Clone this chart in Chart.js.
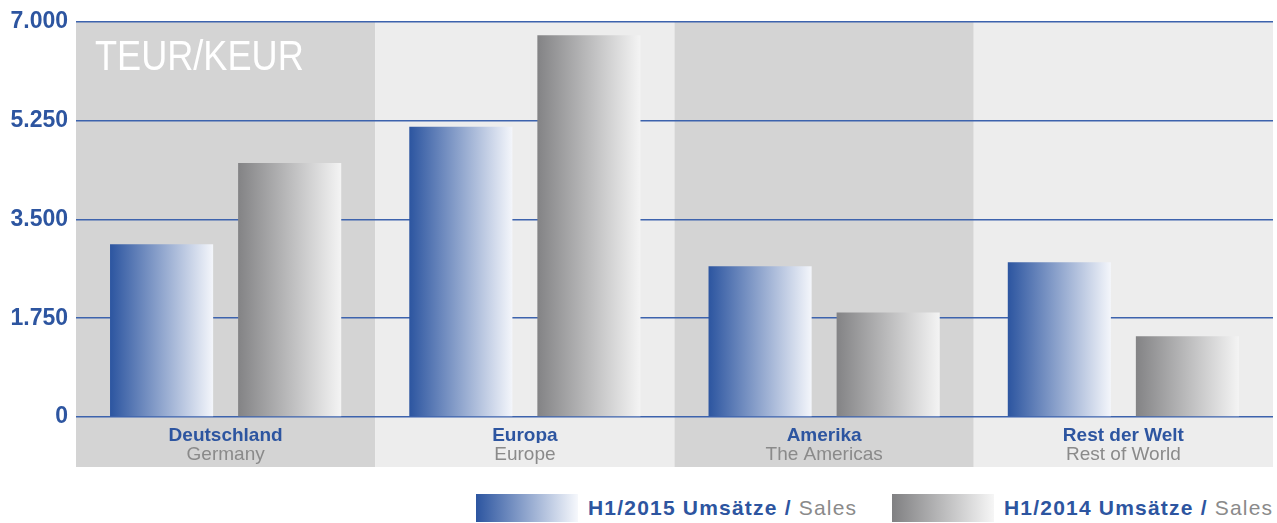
<!DOCTYPE html>
<html>
<head>
<meta charset="utf-8">
<script src="https://cdn.jsdelivr.net/npm/chart.js@4/dist/chart.umd.min.js"></script>
<style>
  html, body { margin: 0; padding: 0; background: #fff; }
  #wrap { position: relative; width: 1277px; height: 523px; }
  #box { position: absolute; left: 0; top: 0; width: 1277px; height: 470px; }
  .leg { position: absolute; top: 494px; height: 28px; display: flex; align-items: center;
         font-family: "Liberation Sans", Arial, sans-serif; font-size: 21px; letter-spacing: 1.2px; white-space: nowrap; }
  .leg .sw { width: 102px; height: 28px; margin-right: 10px; }
  .leg b { color: #2d55a0; }
  .leg span.en { color: #8a8a8a; }
</style>
</head>
<body>
<div id="wrap">
  <div id="box"><canvas id="chart"></canvas></div>
  <div class="leg" style="left:476px"><div class="sw" style="background:linear-gradient(to right,#2c55a0,#f6f8fc)"></div><b>H1/2015 Umsätze /&nbsp;</b><span class="en">Sales</span></div>
  <div class="leg" style="left:892px"><div class="sw" style="background:linear-gradient(to right,#808082,#f6f6f6)"></div><b>H1/2014 Umsätze /&nbsp;</b><span class="en">Sales</span></div>
</div>
<script>
const categoriesDe = ['Deutschland', 'Europa', 'Amerika', 'Rest der Welt'];
const categoriesEn = ['Germany', 'Europe', 'The Americas', 'Rest of World'];
const sales2015 = [3060, 5140, 2670, 2740];
const sales2014 = [4500, 6760, 1850, 1430];
const unitLabel = 'TEUR/KEUR';

const BLUE = '#2d55a0';
const gradientStops = [['#2c55a0', '#f4f6fb'], ['#838385', '#f4f4f4']];

// german thousands separator
const fmt = v => String(v).replace(/\B(?=(\d{3})+(?!\d))/g, '.');

const bands = {
  id: 'bands',
  beforeDraw(chart) {
    const {ctx, chartArea: {left, right, top, bottom}} = chart;
    const w = (right - left) / categoriesDe.length;
    ctx.save();
    categoriesDe.forEach((c, i) => {
      ctx.fillStyle = i % 2 ? '#ededed' : '#d4d4d4';
      ctx.fillRect(left + i * w, top, w, bottom + 50 - top);
    });
    ctx.restore();
  },
  beforeDatasetsDraw(chart) {
    const {ctx, chartArea: {left, top}} = chart;
    ctx.save();
    ctx.fillStyle = '#ffffff';
    ctx.font = '42px "Liberation Sans", sans-serif';
    ctx.textBaseline = 'alphabetic';
    // the original face is condensed
    ctx.translate(left + 19, top + 48);
    ctx.scale(0.86, 1);
    ctx.fillText(unitLabel, 0, 0);
    ctx.restore();
  }
};

const barGradient = {
  id: 'barGradient',
  beforeDatasetDraw(chart, args) {
    const ctx = chart.ctx;
    const stops = gradientStops[args.index];
    args.meta.data.forEach(bar => {
      const {x, width} = bar.getProps(['x', 'width'], true);
      const g = ctx.createLinearGradient(x - width / 2, 0, x + width / 2, 0);
      g.addColorStop(0, stops[0]);
      g.addColorStop(1, stops[1]);
      bar.options = Object.assign({}, bar.options, {backgroundColor: g});
    });
  }
};

new Chart(document.getElementById('chart'), {
  type: 'bar',
  data: {
    labels: categoriesDe,
    datasets: [
      {label: 'H1/2015', data: sales2015, backgroundColor: BLUE, borderWidth: 0,
       categoryPercentage: 0.856, barPercentage: 0.805},
      {label: 'H1/2014', data: sales2014, backgroundColor: '#999', borderWidth: 0,
       categoryPercentage: 0.856, barPercentage: 0.805}
    ]
  },
  options: {
    animation: false,
    responsive: true,
    maintainAspectRatio: false,
    layout: {padding: {top: 19, right: 4, left: 0, bottom: 0}},
    plugins: {legend: {display: false}, tooltip: {enabled: false}},
    scales: {
      x: {
        position: 'bottom',
        weight: 0,
        grid: {display: false, drawTicks: false},
        border: {display: false},
        ticks: {color: BLUE, padding: 7, maxRotation: 0,
                font: {family: '"Liberation Sans", Arial, sans-serif', size: 19, weight: 'bold'}},
        afterFit: s => { s.height = 26; }
      },
      x2: {
        type: 'category',
        labels: categoriesEn,
        position: 'bottom',
        weight: 1,
        offset: true,
        grid: {display: false, drawTicks: false},
        border: {display: false},
        ticks: {color: '#8a8a8a', padding: 0, maxRotation: 0,
                font: {family: '"Liberation Sans", Arial, sans-serif', size: 19}},
        afterFit: s => { s.height = 27; }
      },
      y: {
        min: 0,
        max: 7000,
        grid: {color: '#3d63ad', lineWidth: 1.5, drawTicks: false},
        border: {display: false},
        ticks: {stepSize: 1750, color: BLUE, padding: 8, callback: v => fmt(v),
                font: {family: '"Liberation Sans", Arial, sans-serif', size: 23, weight: 'bold'}},
        afterFit: s => { s.width = 76; }
      }
    }
  },
  plugins: [bands, barGradient]
});
</script>
</body>
</html>
